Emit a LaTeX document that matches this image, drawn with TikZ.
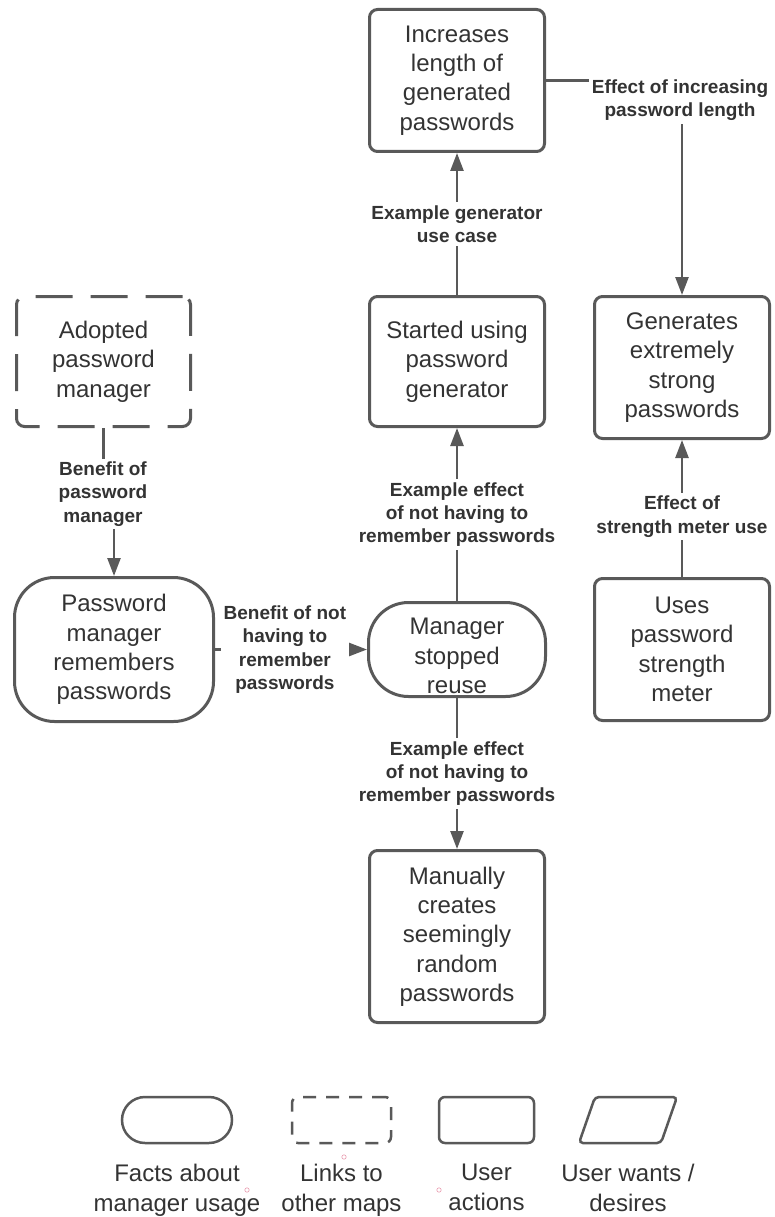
\documentclass[tikz,border=0pt]{standalone}
\usepackage{fontspec}
\setmainfont{Liberation Sans}
\usepackage{xcolor}
\usepackage{tikz}
\usetikzlibrary{arrows.meta,positioning}

\definecolor{edgegray}{HTML}{595959}
\definecolor{inkgray}{HTML}{333333}
\definecolor{dotpink}{HTML}{E89AAE}

\begin{document}
\begin{tikzpicture}[
  x=1pt, y=-1pt,
  box/.style={draw=edgegray, line width=3pt, rounded corners=8pt, fill=white,
              minimum width=175pt, align=center, text=inkgray, inner sep=0pt,
              font=\fontsize{24}{29.3}\selectfont},
  linkbox/.style={box, dash pattern=on 37pt off 18pt},
  fact/.style={box, rounded corners=40pt},
  lbl/.style={fill=white, align=center, text=inkgray, inner sep=3pt,
              font=\bfseries\fontsize{19}{23.3}\selectfont},
  arr/.style={-{Triangle[length=18pt,width=13pt]}, draw=edgegray, line width=2.5pt},
  legshape/.style={draw=edgegray, line width=2.5pt, minimum height=46pt},
  legtxt/.style={align=center, text=inkgray, inner sep=0pt,
                 font=\fontsize{24}{29.3}\selectfont},
]
\useasboundingbox (0,0) rectangle (774,1217);

\node[box, minimum height=142pt] (incr) at (457,80.5) {Increases\\length of\\generated\\passwords};
\node[box, minimum height=130pt, below=142pt of incr] (startgen) {Started using\\password\\generator};
\node[linkbox, minimum width=174pt, minimum height=130pt, left=176pt of startgen] (adopt)
     {Adopted\\password\\manager};
\node[box, minimum height=142pt] (strong) at (682,367.5) {Generates\\extremely\\strong\\passwords};

\node[fact, minimum width=177pt, minimum height=94pt, below=173pt of startgen] (stopreuse)
     {\rule{0pt}{29.5pt}Manager\\stopped\\reuse};
\node[fact, minimum width=199pt, minimum height=144pt, left=152pt of stopreuse] (remembers)
     {Password\\manager\\remembers\\passwords};
\node[box, minimum height=142pt, right=46pt of stopreuse] (meter) {Uses\\password\\strength\\meter};
\node[box, minimum height=172pt, below=151pt of stopreuse] (manual)
     {Manually\\creates\\seemingly\\random\\passwords};

\draw[arr] (incr.east) -| (strong.north);
\node[lbl] (l-length) at (680,100) {Effect of increasing\\password length};
\draw[arr] (startgen) -- node[lbl] (l-gen) {Example generator\\use case} (incr);
\draw[arr] (adopt.south) -- ++(0,66) -| (remembers.north);
\node[lbl] (l-benefit) at (103,494) {Benefit of\\password\\manager};
\draw[arr] (remembers.east) -- node[lbl, pos=0.46] (l-notremember)
     {Benefit of not\\having to\\remember\\passwords} (stopreuse.west);
\draw[arr] (stopreuse) -- node[lbl] (l-effect-up)
     {Example effect\\of not having to\\remember passwords} (startgen);
\draw[arr] (stopreuse) -- node[lbl] (l-effect-down)
     {Example effect\\of not having to\\remember passwords} (manual);
\draw[arr] (meter) -- node[lbl, pos=0.44] (l-meter) {Effect of\\strength meter use} (strong);

\node[legshape, minimum width=110pt, rounded corners=23pt] (lgfact) at (177,1120) {};
\node[legshape, minimum width=99pt, rounded corners=6pt, dash pattern=on 13pt off 10pt]
     (lglink) at (341.5,1120) {};
\node[legshape, minimum width=95pt, rounded corners=6pt] (lgaction) at (486.5,1120) {};
\draw[edgegray, line width=2.5pt, rounded corners=4pt]
     (595,1097) -- (677,1097) -- (661,1143) -- (579,1143) -- cycle;
\coordinate (lgwant) at (628,1144.25);

\node[legtxt, below=20pt of lgfact] (t-fact) {Facts about\\manager usage};
\node[legtxt, below=20pt of lglink] (t-link) {Links to\\other maps};
\node[legtxt, below=20pt of lgaction] (t-action) {User\\actions};
\node[legtxt, below=20pt of lgwant] (t-want) {User wants /\\desires};

\foreach \px/\py in {247/1190, 344/1157, 439/1190}
  \draw[dotpink, line width=0.6pt] (\px,\py) circle (2.2pt);
\end{tikzpicture}
\end{document}
